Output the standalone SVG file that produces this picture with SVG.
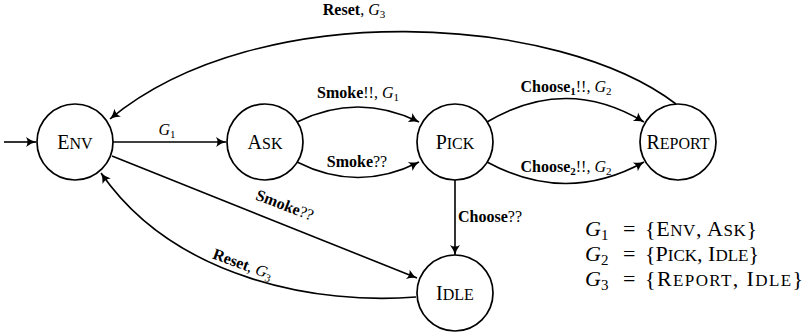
<svg xmlns="http://www.w3.org/2000/svg" width="808" height="336" viewBox="0 0 808 336">
<defs>
<marker id="arr" viewBox="-11 -6 13 12" markerWidth="13" markerHeight="12" refX="0" refY="0" orient="auto" markerUnits="userSpaceOnUse">
<path d="M -10,-5 Q -5,-1.2 0,0 Q -5,1.2 -10,5 Q -7,0 -10,-5 Z" fill="#000"/>
</marker>
<style>
.node circle{fill:#fff;stroke:#000;stroke-width:1.7}
.node text{font-family:"Liberation Serif","DejaVu Serif",serif;font-size:20px;text-anchor:middle;fill:#000}
.node .s{font-size:16px}
.edges path,.edges line{fill:none;stroke:#000;stroke-width:1.6;marker-end:url(#arr)}
.lbl{font-family:"Liberation Serif","DejaVu Serif",serif;font-size:16px;fill:#000;text-anchor:middle}
.b{font-weight:bold}
.i{font-style:italic}
.leg{font-family:"Liberation Serif","DejaVu Serif",serif;font-size:22px;fill:#000}
.leg .s{font-size:17px}
.leg .sub{font-size:15px}
</style>
</defs>
<g class="edges">
<line x1="4" y1="142" x2="36" y2="142"/>
<line x1="113" y1="142" x2="226" y2="142"/>
<path d="M 297,122 Q 358,92 419,122"/>
<path d="M 297,162 Q 358,193 419,162"/>
<path d="M 487,122 Q 566,75 644,122"/>
<path d="M 487,162 Q 566,205 644,162"/>
<line x1="455" y1="180" x2="455" y2="255"/>
<path d="M 112,156 L 417,278"/>
<path d="M 416,297 C 320,305 175,280 101,173"/>
<path d="M 676,104 C 560,15 260,-5 110,119"/>
</g>
<g id="node-env" class="node"><circle cx="75" cy="142" r="38"/><text x="75" y="149">E<tspan class="s">NV</tspan></text></g>
<g id="node-ask" class="node"><circle cx="265" cy="142" r="38"/><text x="265" y="149">A<tspan class="s">SK</tspan></text></g>
<g id="node-pick" class="node"><circle cx="455" cy="142" r="38"/><text x="455" y="149">P<tspan class="s">ICK</tspan></text></g>
<g id="node-report" class="node"><circle cx="678" cy="142" r="38"/><text x="678" y="149">R<tspan class="s">EPORT</tspan></text></g>
<g id="node-idle" class="node"><circle cx="455" cy="293" r="38"/><text x="455" y="300">I<tspan class="s">DLE</tspan></text></g>
<g id="labels">
<text class="lbl" x="167" y="135"><tspan class="i">G</tspan><tspan font-size="11" dy="3">1</tspan></text>
<text class="lbl" x="358" y="98"><tspan class="b">Smoke</tspan>!!, <tspan class="i">G</tspan><tspan font-size="11" dy="3">1</tspan></text>
<text class="lbl" x="357" y="167"><tspan class="b">Smoke</tspan>??</text>
<text class="lbl" x="566" y="92"><tspan class="b">Choose</tspan><tspan class="b" font-size="11" dy="3">1</tspan><tspan dy="-3">!!, </tspan><tspan class="i">G</tspan><tspan font-size="11" dy="3">2</tspan></text>
<text class="lbl" x="566" y="172"><tspan class="b">Choose</tspan><tspan class="b" font-size="11" dy="3">2</tspan><tspan dy="-3">!!, </tspan><tspan class="i">G</tspan><tspan font-size="11" dy="3">2</tspan></text>
<text class="lbl" x="458" y="222" style="text-anchor:start"><tspan class="b">Choose</tspan>??</text>
<text class="lbl" x="354" y="15"><tspan class="b">Reset</tspan>, <tspan class="i">G</tspan><tspan font-size="11" dy="3">3</tspan></text>
<g transform="translate(283,210) rotate(21)"><text class="lbl" x="0" y="0"><tspan class="b">Smoke</tspan>??</text></g>
<g transform="translate(241,269) rotate(20)"><text class="lbl" x="0" y="0"><tspan class="b">Reset</tspan>, <tspan class="i">G</tspan><tspan font-size="11" dy="3">3</tspan></text></g>
</g>
<g id="legend" class="leg">
<text x="585" y="236"><tspan class="i">G</tspan><tspan class="sub" dy="4">1</tspan></text>
<text x="623" y="236">=</text>
<text x="645" y="236" textLength="112" lengthAdjust="spacing">{E<tspan class="s">NV</tspan>, A<tspan class="s">SK</tspan>}</text>
<text x="585" y="261"><tspan class="i">G</tspan><tspan class="sub" dy="4">2</tspan></text>
<text x="623" y="261">=</text>
<text x="645" y="261">{P<tspan class="s">ICK</tspan>, I<tspan class="s">DLE</tspan>}</text>
<text x="585" y="286"><tspan class="i">G</tspan><tspan class="sub" dy="4">3</tspan></text>
<text x="623" y="286">=</text>
<text x="645" y="286" textLength="158" lengthAdjust="spacing">{R<tspan class="s">EPORT</tspan>, I<tspan class="s">DLE</tspan>}</text>
</g>
</svg>
